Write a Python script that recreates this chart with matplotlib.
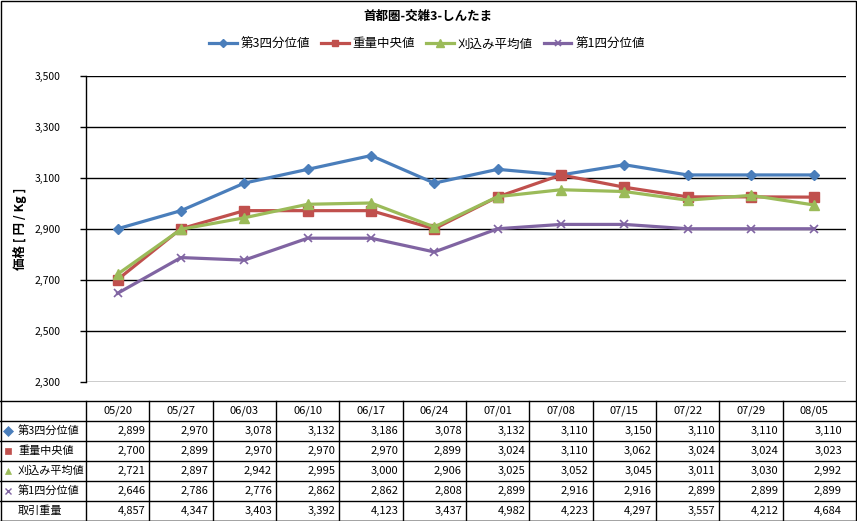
import matplotlib.pyplot as plt
from matplotlib.patches import Rectangle

plt.rcParams['font.family'] = ['Noto Sans CJK JP', 'DejaVu Sans']

# データ
dates = ['05/20', '05/27', '06/03', '06/10', '06/17', '06/24',
         '07/01', '07/08', '07/15', '07/22', '07/29', '08/05']
q3 = [2899, 2970, 3078, 3132, 3186, 3078, 3132, 3110, 3150, 3110, 3110, 3110]
median_w = [2700, 2899, 2970, 2970, 2970, 2899, 3024, 3110, 3062, 3024, 3024, 3023]
trim_mean = [2721, 2897, 2942, 2995, 3000, 2906, 3025, 3052, 3045, 3011, 3030, 2992]
q1 = [2646, 2786, 2776, 2862, 2862, 2808, 2899, 2916, 2916, 2899, 2899, 2899]
volume = [4857, 4347, 3403, 3392, 4123, 3437, 4982, 4223, 4297, 3557, 4212, 4684]

series = [
    ('第3四分位値', q3, '#4A7EBB', 'D', 5.5),
    ('重量中央値', median_w, '#C0504D', 's', 7),
    ('刈込み平均値', trim_mean, '#9BBB59', '^', 7.5),
    ('第1四分位値', q1, '#8064A2', 'x', 6),
]

W, H = 857, 521
fig = plt.figure(figsize=(W / 100, H / 100), dpi=100)

# プロット領域（ピクセル指定）
ax_l, ax_r, ax_t, ax_b = 86, 846, 75.5, 381.5
ax = fig.add_axes([ax_l / W, 1 - ax_b / H, (ax_r - ax_l) / W, (ax_b - ax_t) / H])

x = list(range(len(dates)))
handles = []
for name, vals, col, mk, ms in series:
    kw = dict(mew=1.2) if mk == 'x' else dict(mec=col)
    h, = ax.plot(x, vals, color=col, lw=2.3, marker=mk, ms=ms, mfc=col,
                 label=name, zorder=3, **kw)
    handles.append(h)

ax.set_xlim(-0.5, len(dates) - 0.5)
ax.set_ylim(2300, 3500)
ax.set_yticks(range(2300, 3501, 200))
ax.set_yticklabels([f'{v:,}' for v in range(2300, 3501, 200)], fontsize=7.5)
ax.set_xticks([])
ax.grid(axis='y', color='black', lw=1)
for s in ['top', 'right', 'bottom']:
    ax.spines[s].set_visible(False)
ax.spines['left'].set_linewidth(1)
ax.tick_params(axis='y', length=4, width=1, pad=14)

fig.text(20 / W, 1 - 229 / H, '価格 [ 円 / Kg ]', rotation=90, ha='center', va='center',
         fontsize=9, fontweight='bold')
fig.text(428 / W, 1 - 16 / H, '首都圏-交雑3-しんたま', ha='center', va='center',
         fontsize=9, fontweight='bold')
fig.legend(handles=handles, loc='center', bbox_to_anchor=(427 / W, 1 - 44 / H),
           ncol=4, frameon=False, fontsize=9, handlelength=2.2, handletextpad=0.3,
           columnspacing=0.9, markerscale=0.7)

# データテーブル
tab = fig.add_axes([0, 0, 1, 1], zorder=-1)
tab.set_xlim(0, W)
tab.set_ylim(H, 0)
tab.axis('off')

colw = (ax_r - ax_l) / len(dates)
row_top = 400.7
row_h = 20
rows = [(s[0], s[1], s[2], s[3]) for s in series] + [('取引重量', volume, None, None)]

for k in range(len(rows) + 2):
    y = row_top + k * row_h
    tab.plot([0, W], [y, y], color='black', lw=1)
for i in range(len(dates)):
    xl = ax_l + i * colw
    tab.plot([xl, xl], [row_top, row_top + (len(rows) + 1) * row_h], color='black', lw=1)

for i, d in enumerate(dates):
    cx = ax_l + (i + 0.5) * colw
    tab.text(cx, row_top + row_h / 2, d, ha='center', va='center', fontsize=8)

for r, (name, vals, col, mk) in enumerate(rows):
    cy = row_top + (r + 1.5) * row_h
    if mk is not None:
        tab.plot([8], [cy], marker=mk, color=col, ms=5 if mk != 'x' else 4.5,
                 mew=1 if mk == 'x' else 0.5)
    tab.text(18, cy, name, ha='left', va='center', fontsize=8)
    for i, v in enumerate(vals):
        xr = ax_l + (i + 1) * colw - 4
        tab.text(xr, cy, f'{v:,}', ha='right', va='center', fontsize=8)

# 外枠
fig.add_artist(Rectangle((0.5 / W, 0.5 / H), (W - 1.5) / W, (H - 1.5) / H,
                         transform=fig.transFigure, fill=False, ec='black', lw=1))

fig.savefig('out.png', dpi=100)
